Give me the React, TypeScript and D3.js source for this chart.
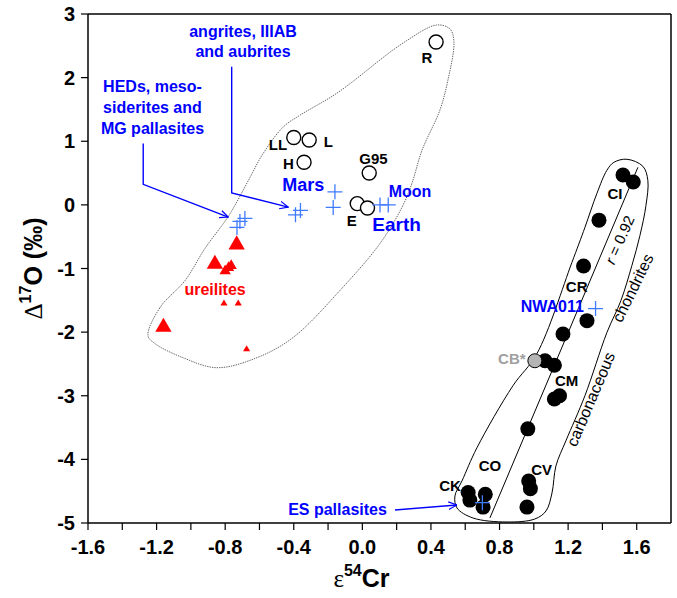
import React, { useEffect } from "react";
import * as d3 from "d3";

// chart frame
const W = 677;
const H = 598;

// axis ticks
const xMajor = [-1.6, -1.2, -0.8, -0.4, 0.0, 0.4, 0.8, 1.2, 1.6];
const xMinor = [-1.4, -1.0, -0.6, -0.2, 0.2, 0.6, 1.0, 1.4];
const yMajor = [-5, -4, -3, -2, -1, 0, 1, 2, 3];

// ordinary, enstatite, R chondrites (open circles)
const ocCr = [0.43, -0.40, -0.31, -0.34, 0.04, -0.03, 0.03];
const ocO = [2.56, 1.06, 1.02, 0.67, 0.50, 0.02, -0.05];

// carbonaceous chondrites (filled circles)
const ccCr = [1.52, 1.58, 1.38, 1.29, 1.31, 1.17, 1.065, 1.12, 1.12, 1.15, 0.965, 0.97, 0.98, 0.96, 0.617, 0.627, 0.717, 0.704];
const ccO = [0.47, 0.36, -0.24, -0.96, -1.82, -2.03, -2.45, -2.52, -3.05, -3.0, -3.52, -4.34, -4.46, -4.75, -4.52, -4.64, -4.55, -4.75];
// CB chondrite (grey)
const cbCr = [1.006];
const cbO = [-2.45];

// achondrites, planets (crosses)
const achCr = [-0.731, -0.714, -0.685, -0.39, -0.361, -0.16, -0.17, 0.103, 0.151, 1.36, 0.70];
const achO = [-0.354, -0.26, -0.213, -0.157, -0.087, 0.205, -0.04, 0.0, 0.0, -1.63, -4.68];

// ureilites (red triangles), size class
const urCr = [-0.733, -0.86, -1.16, -0.80, -0.78, -0.765, -0.807, -0.724, -0.675];
const urO = [-0.627, -0.93, -1.92, -1.04, -0.99, -0.955, -1.55, -1.55, -2.27];
const urSize = [3, 3, 3, 2, 2, 2, 1, 1, 1];

// dotted outline round the non-carbonaceous group
const ncLoopCr = [-1.25, -1.18, -1.034, -0.918, -0.778, -0.655, -0.585, -0.463, -0.364, -0.148, 0.237, 0.435, 0.511, 0.534, 0.499, 0.452, 0.348, 0.289, 0.231, 0.103, -0.131, -0.405, -0.615, -0.848, -1.046, -1.209];
const ncLoopO = [-2.055, -1.614, -1.189, -0.685, -0.165, 0.433, 0.78, 1.22, 1.409, 1.756, 2.543, 2.827, 2.764, 2.559, 1.961, 1.488, 0.858, 0.339, -0.039, -0.606, -1.346, -2.087, -2.402, -2.559, -2.402, -2.181];

// solid outline round the carbonaceous chondrites
const ccLoopCr = [1.543, 1.636, 1.665, 1.654, 1.619, 1.572, 1.508, 1.426, 1.298, 1.187, 1.129, 1.106, 1.071, 1.006, 0.843, 0.645, 0.552, 0.54, 0.581, 0.668, 0.878, 1.018, 1.222, 1.298, 1.368, 1.426, 1.467];
const ccLoopO = [0.717, 0.606, 0.386, -0.008, -0.48, -0.953, -1.504, -2.008, -3.0, -3.709, -4.102, -4.528, -4.811, -4.937, -4.984, -4.921, -4.764, -4.575, -4.339, -3.819, -2.843, -2.339, -0.906, -0.354, 0.181, 0.543, 0.669];

// regression line through the carbonaceous chondrites
const regCr = [1.607, 0.744];
const regO = [0.59, -4.92];

// black point labels
const blackLabels = ["R", "LL", "L", "H", "G95", "E", "CI", "CR", "CM", "CV", "CK", "CO"];
const blackLabelCr = [0.377, -0.492, -0.198, -0.431, 0.065, -0.062, 1.473, 1.25, 1.191, 1.046, 0.511, 0.744];
const blackLabelO = [2.236, 0.866, 0.913, 0.559, 0.638, -0.331, 0.094, -1.37, -2.85, -4.241, -4.504, -4.189];

// blue labels
const blueLabels = ["Mars", "Moon", "Earth", "NWA011"];
const blueLabelCr = [-0.345, 0.278, 0.2, 1.108];
const blueLabelO = [0.213, 0.126, -0.417, -1.677];
const blueLabelSize = [18, 16, 19, 16];

export default function App() {
  useEffect(() => {
    document.body.style.margin = "0";
  }, []);

  const margin = { left: 88, right: 6, top: 14, bottom: 75 };
  const x = d3.scaleLinear().domain([-1.6, 1.8]).range([margin.left, W - margin.right]);
  const y = d3.scaleLinear().domain([-5, 3]).range([H - margin.bottom, margin.top]);

  const loop = d3
    .line<[number, number]>()
    .x((d) => x(d[0]))
    .y((d) => y(d[1]))
    .curve(d3.curveCatmullRomClosed.alpha(0.5));

  const ncPath = loop(ncLoopCr.map((c, i) => [c, ncLoopO[i]]));
  const ccPath = loop(ccLoopCr.map((c, i) => [c, ccLoopO[i]]));

  const triArea = { 1: 22, 2: 55, 3: 115 } as Record<number, number>;
  const tri = (s: number) => d3.symbol().type(d3.symbolTriangle).size(triArea[s])();

  const blue = "#0000ff";
  const crossBlue = "#3f7bff";
  const sans = "'Liberation Sans', Arial, Helvetica, sans-serif";
  const serif = "'Liberation Serif', 'Times New Roman', serif";

  const x0 = x.range()[0];
  const x1 = x.range()[1];
  const yb = y.range()[0];
  const yt = y.range()[1];

  // annotation anchors (data units)
  const hedX = x(-1.224);
  const angX = x(-0.696);
  const hedArrow = [[-1.278, 0.964], [-1.278, 0.323], [-0.782, -0.192]];
  const angArrow = [[-0.762, 2.17], [-0.762, 0.186], [-0.432, -0.035]];
  const esArrow = [[0.19, -4.795], [0.552, -4.717]];
  const pline = d3.line<number[]>().x((d) => x(d[0])).y((d) => y(d[1]));

  return (
    <svg width={W} height={H} style={{ position: "absolute", left: 0, top: 0, background: "#fff" }} fontFamily={sans}>
      <defs>
        <marker id="arr" viewBox="0 0 10 10" refX="9.5" refY="5" markerWidth="9" markerHeight="9" orient="auto" markerUnits="userSpaceOnUse">
          <path d="M0,0.8 L9.5,5 L0,9.2" fill="none" stroke={blue} strokeWidth="1.3" />
        </marker>
      </defs>

      {/* outlines */}
      <path d={ncPath ?? ""} fill="none" stroke="#555" strokeWidth={0.9} strokeDasharray="1.4,1" />
      <path d={ccPath ?? ""} fill="none" stroke="#000" strokeWidth={1} />
      <line x1={x(regCr[0])} y1={y(regO[0])} x2={x(regCr[1])} y2={y(regO[1])} stroke="#000" strokeWidth={1} />

      {/* arrows */}
      <path d={pline(hedArrow) ?? ""} fill="none" stroke={blue} strokeWidth={1.4} markerEnd="url(#arr)" />
      <path d={pline(angArrow) ?? ""} fill="none" stroke={blue} strokeWidth={1.4} markerEnd="url(#arr)" />
      <path d={pline(esArrow) ?? ""} fill="none" stroke={blue} strokeWidth={1.4} markerEnd="url(#arr)" />

      {/* ureilites */}
      {urCr.map((c, i) => (
        <path key={"u" + i} d={tri(urSize[i]) ?? ""} transform={`translate(${x(c)},${y(urO[i])})`} fill="#ff0000" />
      ))}

      {/* open circles */}
      {ocCr.map((c, i) => (
        <circle key={"o" + i} cx={x(c)} cy={y(ocO[i])} r={7} fill="#fff" stroke="#000" strokeWidth={1.4} />
      ))}

      {/* carbonaceous chondrites */}
      {ccCr.map((c, i) => (
        <circle key={"c" + i} cx={x(c)} cy={y(ccO[i])} r={7.5} fill="#000" />
      ))}
      {cbCr.map((c, i) => (
        <circle key={"cb" + i} cx={x(c)} cy={y(cbO[i])} r={7} fill="#b4b4b4" stroke="#000" strokeWidth={1} />
      ))}

      {/* crosses */}
      {achCr.map((c, i) => {
        const cx = x(c);
        const cy = y(achO[i]);
        const a = 7.5;
        return (
          <path key={"a" + i} d={`M${cx - a},${cy}H${cx + a}M${cx},${cy - a}V${cy + a}`} stroke={crossBlue} strokeWidth={1.3} fill="none" />
        );
      })}

      {/* labels */}
      {blackLabels.map((t, i) => (
        <text key={"bl" + i} x={x(blackLabelCr[i])} y={y(blackLabelO[i])} textAnchor="middle" fontSize={15} fontWeight="bold">
          {t}
        </text>
      ))}
      <text x={x(0.872)} y={y(-2.504)} textAnchor="middle" fontSize={15} fontWeight="bold" fill="#a0a0a0">CB*</text>
      {blueLabels.map((t, i) => (
        <text key={"bu" + i} x={x(blueLabelCr[i])} y={y(blueLabelO[i])} textAnchor="middle" fontSize={blueLabelSize[i]} fontWeight="bold" fill={blue}>
          {t}
        </text>
      ))}
      <text x={x(-0.859)} y={y(-1.409)} textAnchor="middle" fontSize={16} fontWeight="bold" fill="#ff0000">ureilites</text>

      <g fontSize={16} fontWeight="bold" fill={blue} textAnchor="middle">
        <text x={angX} y={y(2.638)}>angrites, IIIAB</text>
        <text x={angX} y={y(2.323)}>and aubrites</text>
        <text x={hedX} y={y(1.78)}>HEDs, meso-</text>
        <text x={hedX} y={y(1.441)}>siderites and</text>
        <text x={hedX} y={y(1.118)}>MG pallasites</text>
        <text x={x(-0.145)} y={y(-4.874)}>ES pallasites</text>
      </g>

      {/* rotated texts */}
      <text transform={`translate(${x(1.508)},${y(-0.559)}) rotate(-66)`} textAnchor="middle" dominantBaseline="middle" fontSize={15}>
        <tspan fontStyle="italic">r</tspan> = 0.92
      </text>
      <text transform={`translate(${x(1.584)},${y(-1.315)}) rotate(-64)`} textAnchor="middle" dominantBaseline="middle" fontSize={16}>
        chondrites
      </text>
      <text transform={`translate(${x(1.339)},${y(-3.063)}) rotate(-67)`} textAnchor="middle" dominantBaseline="middle" fontSize={16}>
        carbonaceous
      </text>

      {/* frame */}
      <line x1={x0} y1={yt} x2={x1} y2={yt} stroke="#000" strokeWidth={1.5} />
      <line x1={x1} y1={yt} x2={x1} y2={yb} stroke="#000" strokeWidth={1.5} />
      <line x1={x0} y1={yb} x2={x1} y2={yb} stroke="#000" strokeWidth={1.5} />
      <line x1={x0} y1={yt} x2={x0} y2={yb} stroke="#000" strokeWidth={1.5} />

      {/* x axis */}
      {[...xMajor, ...xMinor].map((v, i) => (
        <line key={"xt" + i} x1={x(v)} x2={x(v)} y1={yb} y2={yb + 7} stroke="#000" strokeWidth={1.2} />
      ))}
      {xMajor.map((v, i) => (
        <text key={"xl" + i} x={x(v)} y={yb + 31} textAnchor="middle" fontSize={20} fontWeight="bold">
          {d3.format(".1f")(v).replace("−", "-")}
        </text>
      ))}
      {/* y axis */}
      {yMajor.map((v, i) => (
        <g key={"yt" + i}>
          <line x1={x0 - 7} x2={x0} y1={y(v)} y2={y(v)} stroke="#000" strokeWidth={1.2} />
          <text x={x0 - 13} y={y(v) + 7} textAnchor="end" fontSize={20} fontWeight="bold">
            {String(v)}
          </text>
        </g>
      ))}

      {/* axis titles */}
      <text x={(x0 + x1) / 2 - 18} y={H - 11} textAnchor="middle" fontSize={25} fontWeight="bold">
        <tspan fontFamily={serif} fontWeight="normal">ε</tspan>
        <tspan fontSize={16} dy={-11}>54</tspan>
        <tspan dy={11}>Cr</tspan>
      </text>
      <text transform={`translate(42,${(yt + yb) / 2}) rotate(-90)`} textAnchor="middle" fontSize={25} fontWeight="bold">
        <tspan fontFamily={serif} fontWeight="normal">Δ</tspan>
        <tspan fontSize={16} dy={-11}>17</tspan>
        <tspan dy={11}>O (‰)</tspan>
      </text>
    </svg>
  );
}
